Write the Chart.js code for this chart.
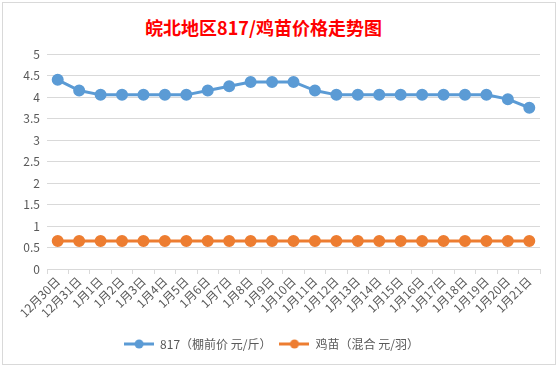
<!DOCTYPE html>
<html>
<head>
<meta charset="utf-8">
<script src="https://cdn.jsdelivr.net/npm/chart.js@4"></script>
<style>
  body { margin: 0; background: #fff; width: 558px; height: 367px; overflow: hidden; position: relative; }
  .caja { position: absolute; left: 2px; top: 2px; width: 552px; height: 361px; border: 1px solid #d9d9d9; }
  .titulo { position: absolute; left: 0; width: 521px; top: 11px; text-align: center; color: #ff0000;
            font: bold 18px "Noto Sans CJK SC", sans-serif; }
  canvas { position: absolute; left: 0; top: 0; }
</style>
</head>
<body>
<div class="caja">
  <div class="titulo">皖北地区817/鸡苗价格走势图</div>
  <canvas id="grafico" width="552" height="361"></canvas>
</div>
<script>
// datos
const fechas = ['12月30日', '12月31日', '1月1日', '1月2日', '1月3日', '1月4日', '1月5日', '1月6日', '1月7日', '1月8日',
  '1月9日', '1月10日', '1月11日', '1月12日', '1月13日', '1月14日', '1月15日', '1月16日', '1月17日', '1月18日',
  '1月19日', '1月20日', '1月21日']
const precio817 = [4.4, 4.15, 4.05, 4.05, 4.05, 4.05, 4.05, 4.15, 4.25, 4.35, 4.35, 4.35, 4.15, 4.05, 4.05, 4.05,
  4.05, 4.05, 4.05, 4.05, 4.05, 3.95, 3.75]
const precioPollito = [0.65, 0.65, 0.65, 0.65, 0.65, 0.65, 0.65, 0.65, 0.65, 0.65, 0.65, 0.65, 0.65, 0.65, 0.65,
  0.65, 0.65, 0.65, 0.65, 0.65, 0.65, 0.65, 0.65]

const fuente = '"Noto Sans CJK SC", sans-serif'
const gris = '#595959'

// icono de leyenda: linea con punto
function icono(color) {
  let c = document.createElement('canvas')
  c.width = 30
  c.height = 10
  let g = c.getContext('2d')
  g.strokeStyle = color
  g.lineWidth = 3
  g.beginPath()
  g.moveTo(0, 5)
  g.lineTo(30, 5)
  g.stroke()
  g.fillStyle = color
  g.beginPath()
  g.arc(15, 5, 4.5, 0, Math.PI * 2)
  g.fill()
  return c
}
const iconos = [icono('#5b9bd5'), icono('#ed7d31')]

const ctx = document.getElementById('grafico').getContext('2d')
const grafico = new Chart(ctx, {
  type: 'line',
  data: {
    labels: fechas,
    datasets: [
      {
        label: '817（棚前价 元/斤）',
        data: precio817,
        borderColor: '#5b9bd5',
        backgroundColor: '#5b9bd5',
        borderWidth: 3,
        pointRadius: 4.5,
        pointHoverRadius: 4.5,
        tension: 0
      },
      {
        label: '鸡苗（混合 元/羽）',
        data: precioPollito,
        borderColor: '#ed7d31',
        backgroundColor: '#ed7d31',
        borderWidth: 3,
        pointRadius: 4.5,
        pointHoverRadius: 4.5,
        tension: 0
      }
    ]
  },
  options: {
    responsive: false,
    animation: false,
    layout: { padding: { top: 51, right: 15, left: 0, bottom: 4 } },
    scales: {
      x: {
        offset: true,
        grid: { offset: true, drawOnChartArea: false, drawTicks: true, tickLength: 5, color: '#d9d9d9' },
        border: { color: '#d9d9d9' },
        ticks: { color: gris, font: { family: fuente, size: 12 }, minRotation: 45, maxRotation: 45, autoSkip: false, padding: 0 },
        afterFit: (s) => { s.height = 61 }
      },
      y: {
        min: 0,
        max: 5,
        ticks: { stepSize: 0.5, color: gris, font: { family: fuente, size: 12 }, padding: 7,
                 callback: (v) => String(Number(v)) },
        grid: { color: '#d9d9d9', drawTicks: false },
        border: { display: false },
        afterFit: (s) => { s.width = 44 }
      }
    },
    plugins: {
      legend: {
        position: 'bottom',
        labels: {
          color: gris,
          font: { family: fuente, size: 12 },
          usePointStyle: true,
          pointStyleWidth: 30,
          padding: 8,
          generateLabels: (chart) => {
            let items = Chart.defaults.plugins.legend.labels.generateLabels(chart)
            items.forEach((it, i) => { it.pointStyle = iconos[i] })
            return items
          }
        }
      },
      tooltip: { enabled: false }
    }
  }
})
</script>
</body>
</html>
